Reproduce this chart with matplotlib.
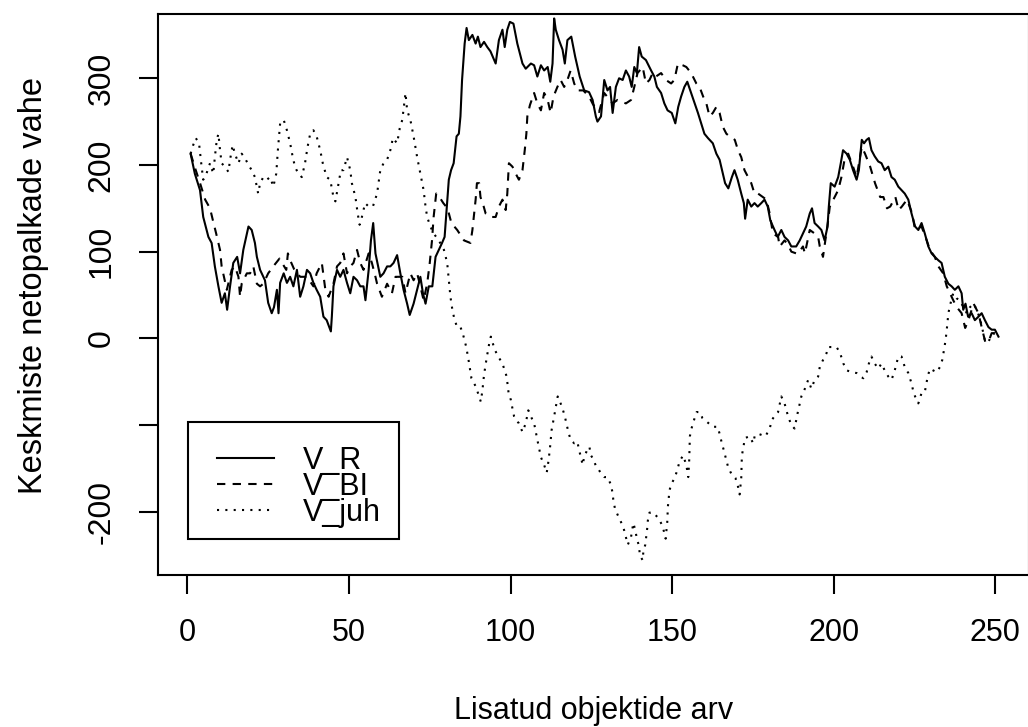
import numpy as np
import matplotlib.pyplot as plt
from matplotlib.patches import Rectangle

# V_R (solid)
vr_x = [1, 2.3, 3.9, 4.9, 6.5, 7.5, 8.5, 9.6, 10.6, 11.6, 12.3, 13.2, 14.2, 15.4, 16.3, 17.3,
        18.9, 19.9, 20.9, 21.5, 22.5, 24, 25, 26.1, 26.8, 27.7, 28.2, 28.7, 29.8, 30.8, 31.8,
        32.8, 33.9, 34.9, 35.9, 37, 38, 39, 40, 41.1, 42.1, 43.1, 44.4, 44.7, 45.2, 46.3, 47.3,
        48.3, 49.4, 50.4, 51.4, 52.5, 53.5, 54.5, 55.1, 56.1, 56.8, 57.5, 58.2, 59.7, 60.7,
        61.8, 62.8, 63.8, 64.9, 65.9, 66.9, 68, 68.8, 70, 71.1, 72.1, 72.9, 73.7, 74.7, 75.8,
        76.8, 77.8, 78.8, 79.6, 80.2, 80.9, 81.6, 82.4, 83.3, 84, 84.5, 85, 85.8, 86.4, 87.1,
        88.2, 89.2, 89.9, 90.7, 91.8, 92.8, 93.8, 95.4, 96.4, 97.5, 98.2, 99, 99.8, 100.9,
        102.1, 103.7, 104.7, 106.3, 107.3, 108.3, 109.4, 110.4, 111.5, 112.3, 113, 113.5, 114,
        115, 116.1, 116.8, 117.6, 118.8, 120, 121.4, 122.8, 124.3, 125.4, 126.4, 126.9, 128,
        129, 130, 130.8, 131.6, 132.6, 133.6, 134.7, 135.7, 136.7, 137.5, 138.3, 139.1, 139.8,
        140.6, 141.9, 143.5, 144.5, 145.3, 146.6, 147.6, 148.6, 149.9, 151, 151.9, 152.8,
        153.8, 154.7, 155.9, 157, 158, 159, 160, 161.1, 162.6, 163.7, 164.7, 165.7, 166.4,
        167.4, 168.5, 169.3, 170.3, 171.4, 172.2, 172.6, 173.4, 174.5, 175.5, 176.5, 177.6,
        178.6, 179.6, 180.4, 181.7, 182.7, 183.8, 184.8, 185.9, 186.9, 188.4, 189.5, 190.5,
        191.5, 192.6, 193.3, 194.1, 195.2, 196.2, 197.2, 198.1, 198.5, 199.1, 200.3, 201.4,
        202.2, 202.9, 204, 205, 206, 207.1, 207.8, 208.7, 209.4, 210.2, 210.9, 211.7, 212.7,
        213.8, 214.8, 215.8, 216.9, 217.9, 218.9, 220, 221, 222, 223.1, 224.1, 225.2, 226.2,
        227.2, 228.2, 229.3, 230.3, 231.3, 232.4, 233.4, 234.4, 235.5, 236.5, 237.5, 238.6,
        239.6, 240.1, 240.8, 241.6, 242.7, 243.7, 244.8, 245.8, 246.8, 247.9, 248.9, 249.9, 251]
vr_y = [213, 190, 171, 140, 117, 110, 83, 60, 41, 52, 33, 60, 87, 94, 75, 102,
        129, 125, 110, 94, 79, 67, 41, 29, 36, 56, 29, 64, 75, 64, 71,
        60, 79, 48, 60, 79, 75, 64, 56, 48, 25, 21, 8, 25, 60, 79, 71,
        79, 64, 52, 71, 67, 60, 60, 44, 79, 113, 133, 98, 71, 75,
        83, 83, 87, 96, 75, 56, 40, 27, 40, 56, 71, 52, 40, 60, 60,
        94, 102, 110, 117, 148, 183, 194, 202, 233, 236, 256, 298, 340, 358, 344,
        350, 340, 348, 336, 342, 336, 331, 317, 344, 356, 336, 356, 365, 363,
        340, 317, 311, 317, 315, 302, 315, 309, 313, 296, 317, 369, 356,
        344, 333, 317, 344, 348, 325, 302, 286, 284, 275, 256, 250, 256,
        298, 286, 290, 260, 290, 300, 298, 309, 302, 290, 313, 306, 336,
        325, 321, 309, 302, 290, 283, 271, 263, 260, 248, 267, 279,
        290, 296, 283, 271, 260, 248, 236, 231, 225, 213, 206, 190, 179,
        173, 186, 194, 183, 167, 156, 138, 160, 152, 156, 152, 156,
        160, 152, 136, 125, 117, 125, 117, 113, 106, 106, 113, 121,
        129, 144, 150, 133, 129, 125, 113, 129, 152, 179, 175, 186,
        202, 217, 213, 206, 194, 183, 194, 229, 225, 229, 231, 217, 210,
        204, 202, 194, 198, 186, 183, 175, 171, 167, 160, 144, 129, 125,
        133, 121, 106, 98, 94, 90, 87, 71, 63, 60, 56, 60,
        52, 33, 40, 25, 29, 21, 25, 29, 21, 13, 10, 10, 2]

# V_BI (dashed)
vbi_x = [1, 2.5, 4, 5.5, 7, 7.9, 8.9, 10.1, 10.6, 12.2, 13.7, 14.7, 15.8, 16.3, 16.8, 18.4,
         19.4, 20.4, 21.5, 22.5, 23.5, 25, 27, 28.5, 30.6, 31.1, 31.7, 33, 34.9, 37, 39, 40,
         41.6, 42.7, 43.7, 45.2, 46.3, 47.3, 48.3, 49.4, 50.4, 51.4, 52.5, 53.5, 54.5, 56.1,
         57.1, 58.2, 58.7, 60.2, 61.8, 63.3, 64.4, 66.5, 67.5, 69, 70, 71.1, 72.1, 73.1, 74.2,
         75, 75.7, 76.2, 77, 78, 79.2, 80.5, 81.7, 83.5, 85.6, 87.6, 88.2, 89.2, 89.6, 90.3,
         90.7, 91.7, 92.3, 93.8, 95.4, 96.4, 97.5, 98.5, 99, 99.5, 100.6, 101.6, 102.6, 103.7,
         104.4, 104.9, 105.2, 106, 107.3, 108.3, 109.4, 110.4, 111.5, 112.4, 113.3, 114.5,
         115.5, 116.6, 117.6, 118.6, 119.7, 120.7, 122.5, 124.3, 125.5, 127.4, 129, 131.6,
         133.1, 135.7, 137.3, 138.3, 139.3, 140.9, 141.9, 143, 144, 145, 146.6, 148.1, 149.7,
         150.7, 151.8, 153.3, 154.4, 155.9, 157.5, 158.5, 159.6, 160.6, 161.6, 162.6, 163.7,
         164.7, 165.7, 166.8, 167.8, 169.4, 170.4, 171.4, 172.4, 173.5, 174.5, 175.5, 176.6,
         178.1, 179.2, 180.2, 181.2, 182.8, 183.3, 184.8, 185.9, 186.9, 188.4, 189, 190.5,
         191.1, 192.6, 194.1, 195.2, 195.7, 196.7, 198.3, 198.8, 200.3, 201.4, 202.4, 203.5,
         204.5, 206, 207.1, 208.7, 209.7, 211.3, 212.8, 214.4, 215.4, 216.5, 217.5, 219.1,
         220.1, 221.1, 222.7, 224.3, 225.2, 227.2, 228.8, 229.8, 231.3, 232.4, 233.9, 235,
         236, 237, 238.1, 239.6, 240.7, 241.7, 243.3, 244.8, 245.8, 246.9, 247.9, 248.9,
         249.9, 251]
vbi_y = [213, 195, 178, 160, 150, 136, 121, 102, 83, 56, 79, 83, 71, 48, 63, 75,
         75, 83, 63, 60, 63, 75, 85, 92, 79, 98, 91, 80, 71, 71, 60, 75,
         87, 56, 48, 63, 83, 87, 98, 75, 83, 87, 102, 87, 79, 98,
         87, 71, 63, 48, 63, 52, 71, 71, 52, 75, 67, 75, 60, 44, 63,
         87, 113, 140, 167, 163, 156, 150, 133, 125, 113, 110, 125, 160, 179, 179,
         163, 152, 144, 140, 140, 152, 160, 148, 167, 202, 198, 190, 183, 194,
         217, 236, 256, 269, 283, 271, 263, 283, 275, 260, 279, 290,
         298, 290, 298, 309, 294, 286, 286, 279, 270, 261, 283, 271,
         275, 271, 275, 290, 306, 313, 294, 298, 306, 302, 306, 298, 294,
         298, 317, 315, 313, 306, 294, 290, 279, 271, 256, 260, 267,
         260, 244, 236, 233, 229, 217, 209, 194, 186, 179, 167, 167,
         163, 160, 144, 121, 117, 106, 113, 108, 100, 98, 98, 106,
         98, 125, 121, 117, 106, 94, 136, 152, 163, 171, 186, 209,
         213, 198, 186, 221, 213, 198, 179, 163, 163, 150, 152, 163,
         148, 152, 160, 144, 125, 129, 113, 102, 94, 83, 75, 60,
         52, 44, 36, 29, 12, 21, 40, 29, 13, -4, -4, 6,
         6, 2]

# V_juh (dotted)
vjuh_x = [1, 1.8, 2.6, 3.6, 4.4, 4.9, 5.9, 7, 8, 8.5, 9.1, 9.6, 10.1, 10.6, 11.6, 12.7, 13.2,
          14, 14.7, 15.8, 16.8, 17.8, 18.9, 19.9, 20.9, 21.9, 22.5, 23.5, 24.6, 25.6, 26.6,
          27.5, 28, 28.7, 29.8, 30.8, 31.8, 32.6, 33.3, 34.3, 35.4, 36.4, 37.2, 38, 39, 40,
          41.1, 41.9, 43.1, 44.2, 45.2, 45.8, 46.8, 47.5, 48.3, 49.4, 50.4, 50.9, 52, 52.7,
          53.3, 54, 55, 56.1, 57.4, 58.7, 59.7, 60.7, 61.8, 62.8, 63.6, 64.9, 65.7, 66.5,
          67.5, 68, 69, 70, 71.1, 72.1, 73.1, 73.7, 74.2, 75.2, 76.2, 77.8, 79.4, 80.4, 80.9,
          81.4, 82, 82.7, 83.5, 84.5, 85.2, 86.3, 87.1, 87.9, 89.3, 90.1, 90.8, 91.3, 91.8,
          92.6, 93.4, 93.9, 95.1, 96.2, 97.5, 98.8, 99.4, 100.1, 100.6, 101.1, 101.6, 102.6,
          103.7, 104.7, 105.5, 106.3, 107.3, 108.3, 109.4, 110.4, 111.2, 111.8, 112.3, 112.7,
          113.3, 114.1, 114.6, 115.1, 116.1, 116.8, 117.9, 118.6, 119.7, 120.7, 121.2, 121.8,
          122.3, 122.8, 123.9, 124.4, 124.9, 125.7, 126.5, 127.4, 128, 129, 130, 131.1, 131.6,
          131.8, 132.3, 133.2, 134.2, 135, 135.7, 136.3, 137.3, 138, 138.6, 139.1, 139.8, 140,
          140.9, 141.1, 141.7, 142.3, 142.5, 143, 144.2, 145.9, 147.1, 148, 148.5, 148.7,
          149.2, 149.9, 150.8, 151.6, 152.3, 153.4, 154.4, 155, 155.3, 155.5, 156, 156.8,
          157.6, 158.6, 159.4, 161, 162.6, 164.1, 164.7, 165.4, 166, 166.6, 167.3, 168.3,
          169.6, 170.4, 170.9, 171.4, 171.6, 172.1, 172.5, 174, 175.1, 175.6, 176.6, 178.9,
          180.2, 180.9, 182, 182.8, 183.8, 184.8, 185.9, 186.9, 187.9, 188.8, 190, 191.1,
          192.1, 193.1, 194.1, 195.2, 195.7, 196.7, 197.8, 198.3, 199.9, 200.9, 202, 203,
          204.1, 205.6, 207.1, 208.2, 209.2, 210.2, 210.9, 211.7, 212.7, 213.8, 214.8, 215.8,
          216.9, 217.9, 218.9, 220, 221, 222, 223.1, 224.1, 224.7, 225.2, 226.2, 227.2, 228.2,
          229.1, 229.8, 230.8, 231.9, 232.9, 233.6, 234.3, 234.7, 235, 235.5, 236, 237, 238.1,
          239.1, 240.1, 241.2, 242.2, 243.3, 244.3, 245.4, 246.2, 246.9, 247.9, 248.9, 249.9, 251]
vjuh_y = [213, 223, 231, 225, 198, 183, 190, 202, 190, 209, 229, 236, 217, 202, 198, 192, 206,
          223, 213, 202, 213, 208, 200, 194, 186, 167, 179, 186, 183, 186, 175,
          190, 217, 248, 252, 240, 225, 209, 198, 190, 186, 202, 221, 236, 240, 233,
          217, 202, 186, 183, 163, 158, 179, 194, 194, 209, 194, 179, 163, 144,
          131, 140, 156, 152, 152, 167, 194, 202, 206, 217, 231, 225, 242, 252,
          283, 263, 252, 233, 209, 190, 171, 152, 140, 129, 121, 113, 102, 87, 67,
          48, 33, 21, 13, 13, 6, -10, -27, -46, -56, -65, -73, -60, -42,
          -23, -6, 2, -13, -21, -29, -44, -63, -71, -81, -90, -94, -98,
          -108, -98, -83, -90, -98, -117, -137, -146, -155, -140, -123, -106,
          -94, -77, -67, -71, -81, -90, -108, -117, -121, -119, -129, -137,
          -146, -137, -127, -125, -135, -140, -148, -152, -156, -160, -160, -169, -179,
          -186, -196, -204, -212, -219, -229, -238, -229, -213, -221, -231, -240, -250,
          -256, -246, -238, -219, -210, -201, -201, -208, -217, -231, -212, -194,
          -175, -167, -161, -152, -142, -135, -146, -160, -140, -113, -104, -94,
          -85, -85, -92, -97, -102, -102, -110, -121, -129, -138, -148, -156,
          -161, -171, -180, -161, -135, -125, -115, -113, -121, -112, -110, -113,
          -104, -94, -88, -85, -67, -75, -90, -100, -104, -87, -67, -58,
          -48, -58, -48, -44, -33, -25, -17, -10, -10, -10, -17, -29,
          -37, -39, -40, -44, -46, -39, -29, -21, -29, -35, -29, -37,
          -44, -48, -37, -21, -21, -33, -40, -52, -62, -67, -75, -63, -62,
          -44, -35, -37, -39, -33, -25, -10, 0, 10, 29, 38, 52, 46,
          44, 36, 29, 36, 40, 33, 21, 8, -4, -4, 4, 6, 2]

x_ticks = [0, 50, 100, 150, 200, 250]
y_ticks = [-200, -100, 0, 100, 200, 300]
# R drops the -100 label because it would overlap its neighbours
y_ticklabels = ['-200', '', '0', '100', '200', '300']

plt.rcParams['font.family'] = ['Liberation Sans', 'DejaVu Sans']

fig = plt.figure(figsize=(10.28, 7.27), dpi=100)
ax = fig.add_axes([0.154, 0.2096, 0.8465, 0.771])

ax.plot(vr_x, vr_y, color='black', linestyle='-', linewidth=1.5, label='V_R')
ax.plot(vbi_x, vbi_y, color='black', linestyle=(0, (4, 3.5)), linewidth=1.5, label='V_BI')
ax.plot(vjuh_x, vjuh_y, color='black', linestyle=(0, (1, 3)), linewidth=1.5, label='V_juh')

ax.set_xlim(-9, 260.3)
ax.set_ylim(-272.5, 374)
ax.set_xticks(x_ticks)
ax.set_yticks(y_ticks)
ax.set_yticklabels(y_ticklabels, rotation=90, va='center', fontsize=23)
ax.tick_params(length=14, width=1.5, colors='black')
ax.tick_params(axis='x', pad=17, labelsize=22)
ax.tick_params(axis='y', pad=16)
for s in ax.spines.values():
    s.set_linewidth(1.5)

ax.set_xlabel('Lisatud objektide arv', fontsize=22, va='center')
ax.set_ylabel('Keskmiste netopalkade vahe', fontsize=23.5, va='center')
ax.xaxis.set_label_coords(0.5, -0.244)
ax.yaxis.set_label_coords(-0.144, 0.5167)

# legend: R style box drawn separately so the inner padding can differ per side
leg = ax.legend(loc='upper left', bbox_to_anchor=(0.0675, 0.2303), borderaxespad=0,
                borderpad=0, fontsize=22, handlelength=1.87, handletextpad=0.95,
                labelspacing=-0.13, frameon=False)
ax.add_patch(Rectangle((0.0345, 0.063), 0.2425, 0.2098, transform=ax.transAxes,
                       fill=False, edgecolor='black', linewidth=1.5, zorder=5))

fig.savefig('out.png', dpi=100)
